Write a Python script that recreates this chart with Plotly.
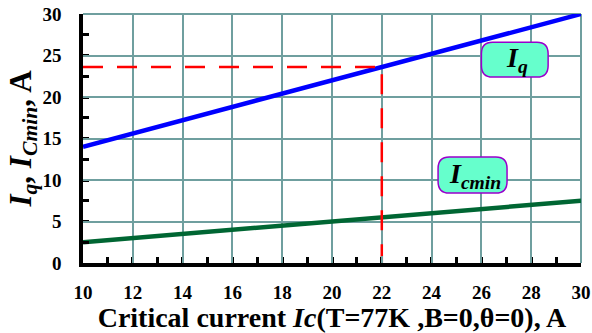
import plotly.graph_objects as go

ic = [10, 30]
iq = [14.0, 30.0]
icmin = [2.5, 7.5]
ref_x = [10, 22, 22]
ref_y = [23.6, 23.6, 0]

x_ticks = [10, 12, 14, 16, 18, 20, 22, 24, 26, 28, 30]
y_ticks = [0, 5, 10, 15, 20, 25, 30]

FONT = "Liberation Serif, Times New Roman, serif"
GRID = "#6f9f9f"

fig = go.Figure()
fig.add_trace(go.Scatter(x=ic, y=iq, mode="lines", line=dict(color="#0000ff", width=4.5), showlegend=False))
fig.add_trace(go.Scatter(x=ic, y=icmin, mode="lines", line=dict(color="#006633", width=4.5), showlegend=False))
fig.add_trace(go.Scatter(x=ref_x, y=ref_y, mode="lines", line=dict(color="#ff0000", width=2.5, dash="20px,14px"), showlegend=False))


def rounded_box(x0, x1, y0, y1, rx, ry):
    return (f"M {x0+rx},{y0} L {x1-rx},{y0} Q {x1},{y0} {x1},{y0+ry} "
            f"L {x1},{y1-ry} Q {x1},{y1} {x1-rx},{y1} L {x0+rx},{y1} "
            f"Q {x0},{y1} {x0},{y1-ry} L {x0},{y0+ry} Q {x0},{y0} {x0+rx},{y0} Z")

boxes = [
    (26.0, 28.68, 22.4, 26.6, r"<b><i>I<sub>q</sub></i></b>"),
    (24.26, 27.03, 8.43, 12.77, r"<b><i>I<sub>cmin</sub></i></b>"),
]
for x0, x1, y0, y1, txt in boxes:
    fig.add_shape(type="path", path=rounded_box(x0, x1, y0, y1, 0.45, 1.4),
                  fillcolor="#66ffcc", line=dict(color="#9900cc", width=1.5), layer="above")
    fig.add_annotation(x=(x0 + x1) / 2 + 0.1, y=(y0 + y1) / 2, text=txt, showarrow=False,
                       font=dict(family=FONT, size=28, color="black"))

fig.update_xaxes(
    range=[10, 30], tickvals=x_ticks, ticktext=[f"<b>{v}</b>" for v in x_ticks],
    showgrid=True, gridcolor=GRID, gridwidth=2,
    ticks="inside", ticklen=7, tickwidth=2, tickcolor=GRID,
    minor=dict(dtick=1, ticks="inside", ticklen=6, tickwidth=2.5, tickcolor="black", showgrid=False),
    showline=True, linecolor="black", linewidth=3.5,
    ticklabelstandoff=9, automargin=False,
    tickfont=dict(family=FONT, size=19, color="black"),
    title=dict(text="<b>Critical current <i>Ic</i>(T=77K ,B=0,θ=0), A</b>",
               font=dict(family=FONT, size=28, color="black"), standoff=4),
    zeroline=False,
)
fig.update_yaxes(
    range=[0, 30], tickvals=y_ticks, ticktext=[f"<b>{v}</b>" for v in y_ticks],
    showgrid=True, gridcolor=GRID, gridwidth=2,
    ticks="inside", ticklen=7, tickwidth=2, tickcolor=GRID,
    minor=dict(dtick=2.5, ticks="inside", ticklen=6, tickwidth=2.5, tickcolor="black", showgrid=False),
    showline=True, linecolor="black", linewidth=3.5,
    ticklabelstandoff=14, automargin=False,
    tickfont=dict(family=FONT, size=19, color="black"),
    title=dict(text="<b><i>I<sub>q</sub></i>, <i>I<sub>Cmin</sub></i>, A</b>",
               font=dict(family=FONT, size=31, color="black"), standoff=2),
    zeroline=False,
)
# top and right border grid lines
fig.add_shape(type="line", xref="paper", yref="paper", x0=0, x1=1, y0=1, y1=1,
              line=dict(color=GRID, width=2), layer="below")
fig.add_shape(type="line", xref="paper", yref="paper", x0=1, x1=1, y0=0, y1=1,
              line=dict(color=GRID, width=2), layer="below")

fig.update_layout(
    width=592, height=333,
    margin=dict(l=83, r=11, t=14, b=70),
    paper_bgcolor="white", plot_bgcolor="white",
    font=dict(family=FONT),
)
fig.write_html("out.html")
